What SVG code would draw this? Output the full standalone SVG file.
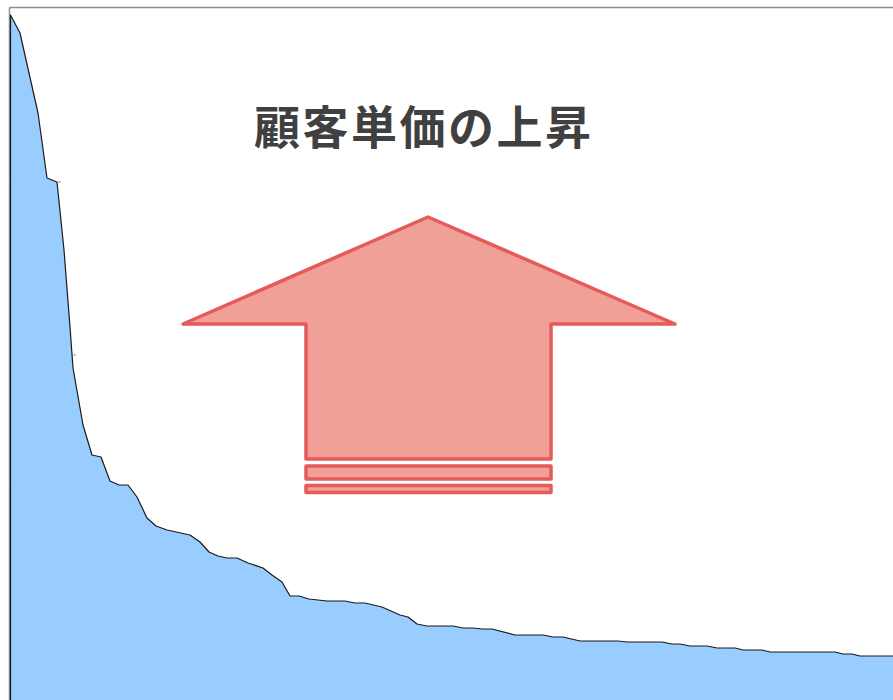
<svg xmlns="http://www.w3.org/2000/svg" width="893" height="700" viewBox="0 0 893 700">
<style>
.frame{fill:none;stroke:#8c8c8c;stroke-width:1.5}
.area{fill:#99ccff;stroke:none}
.curve{fill:none;stroke:#1a1a1a;stroke-width:1.2;stroke-linejoin:round}
.arrow{fill:#f0a096;stroke:#e55a5a;stroke-width:3.5;stroke-linejoin:round}
.title{font-family:"Noto Sans CJK JP","Noto Sans CJK SC",sans-serif;font-weight:bold;font-size:46px;fill:#404040;letter-spacing:2.5px}
</style>
<rect width="893" height="700" fill="#ffffff"/>
<g id="frame">
<line class="frame" x1="9.5" y1="7.5" x2="893" y2="7.5"/>
<line class="frame" x1="9.5" y1="7.5" x2="9.5" y2="700"/>
</g>
<g id="chart">
<path class="area" d="M10.5,15 L20,33 L38,113 L47,178 L57,182 L64,250 L70,327 L73,368 L83,425 L92,455 L101,457 L110,481 L119,485 L128,485 L137,497 L147,518 L156,526 L167,530 L190,535 L200,542 L209,552 L218,556 L227,558 L237,558 L248,563 L263,568 L272,575 L282,582 L290,596 L299,596 L309,599 L327,601 L345,601 L355,603 L365,603 L382,607 L400,615 L408,617 L417,624 L427,626 L453,626 L463,628 L473,628 L482,629 L492,629 L515,635 L543,635 L553,637 L563,637 L580,641 L618,641 L627,642 L662,642 L672,644 L680,644 L690,646 L707,646 L717,648 L735,648 L743,650 L762,650 L770,652 L835,652 L843,654 L852,654 L860,656 L893,656 L893,700 L10.5,700 Z"/>
<path class="curve" d="M10.5,700 L10.5,15 L20,33 L38,113 L47,178 L57,182 L64,250 L70,327 L73,368 L83,425 L92,455 L101,457 L110,481 L119,485 L128,485 L137,497 L147,518 L156,526 L167,530 L190,535 L200,542 L209,552 L218,556 L227,558 L237,558 L248,563 L263,568 L272,575 L282,582 L290,596 L299,596 L309,599 L327,601 L345,601 L355,603 L365,603 L382,607 L400,615 L408,617 L417,624 L427,626 L453,626 L463,628 L473,628 L482,629 L492,629 L515,635 L543,635 L553,637 L563,637 L580,641 L618,641 L627,642 L662,642 L672,644 L680,644 L690,646 L707,646 L717,648 L735,648 L743,650 L762,650 L770,652 L835,652 L843,654 L852,654 L860,656 L893,656"/>
<line x1="57" y1="182" x2="61" y2="182" stroke="#999" stroke-width="1"/>
<line x1="73" y1="355" x2="76" y2="355" stroke="#999" stroke-width="1"/>
</g>
<g id="title">
<text class="title" x="254" y="144">顧客単価の上昇</text>
</g>
<g id="arrow">
<polygon class="arrow" points="428,217 675,324 551,324 551,459 306,459 306,324 183,324"/>
<rect class="arrow" x="306" y="466" width="245" height="13"/>
<rect class="arrow" x="306" y="485.5" width="245" height="7"/>
</g>
</svg>
